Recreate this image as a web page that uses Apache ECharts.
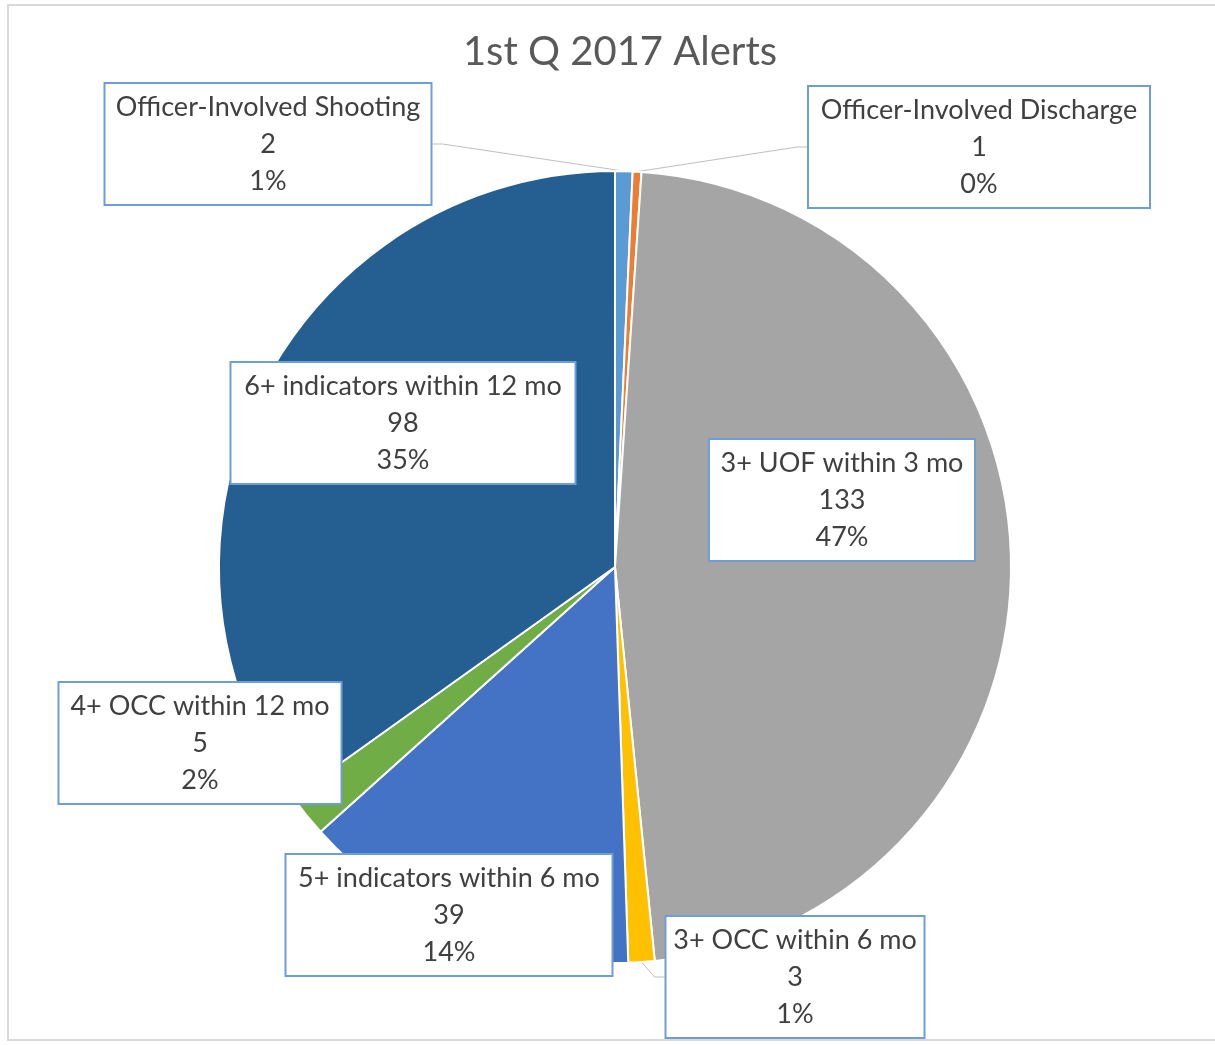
<!DOCTYPE html>
<html>
<head>
<meta charset="utf-8">
<title>1st Q 2017 Alerts</title>
<script src="https://cdn.jsdelivr.net/npm/echarts@6/dist/echarts.min.js"></script>
<style>
  html, body { margin: 0; padding: 0; background: #fff; }
  #chart { width: 1215px; height: 1045px; }
</style>
</head>
<body>
<div id="chart"></div>
<script>
// data, in Excel's order (clockwise from 12 o'clock)
var categories = [
  'Officer-Involved Shooting',
  'Officer-Involved Discharge',
  '3+ UOF within 3 mo',
  '3+ OCC within 6 mo',
  '5+ indicators within 6 mo',
  '4+ OCC within 12 mo',
  '6+ indicators within 12 mo'
];
var counts = [2, 1, 133, 3, 39, 5, 98];
var sliceColors = ['#5B9BD5', '#ED7D31', '#A5A5A5', '#FFC000', '#4472C4', '#70AD47', '#255E91'];

// label boxes: centre, text width, leader line
var labelSpots = [
  { x: 268, y: 144, w: 305, line: true },
  { x: 979, y: 147, w: 320, line: true },
  { x: 842, y: 500, w: 244, line: false },
  { x: 795, y: 977, w: 237, line: true },
  { x: 449, y: 915, w: 305, line: false },
  { x: 200, y: 743, w: 261, line: false },
  { x: 403, y: 423, w: 323, line: false }
];

var myChart = echarts.init(document.getElementById('chart'));

var pieData = categories.map(function (name, i) {
  return {
    name: name,
    value: counts[i],
    itemStyle: { color: sliceColors[i] },
    label: { width: labelSpots[i].w },
    labelLine: { show: labelSpots[i].line }
  };
});

var option = {
  backgroundColor: '#fff',
  animation: false,
  title: {
    text: '1st Q 2017 Alerts',
    left: 615,
    top: 27,
    textAlign: 'center',
    textStyle: {
      fontFamily: 'Lato',
      fontSize: 40,
      fontWeight: 'normal',
      color: '#595959'
    }
  },
  graphic: [{
    type: 'rect',
    silent: true,
    shape: { x: 8, y: 5, width: 1230, height: 1035 },
    style: { fill: 'none', stroke: '#D9D9D9', lineWidth: 2 }
  }],
  series: [{
    name: 'Alerts',
    type: 'pie',
    center: [615, 567],
    radius: 396,
    startAngle: 90,
    clockwise: true,
    percentPrecision: 0,
    itemStyle: { borderColor: '#fff', borderWidth: 2 },
    label: {
      show: true,
      position: 'outside',
      formatter: '{b}\n{c}\n{d}%',
      fontFamily: 'Lato',
      fontSize: 27,
      lineHeight: 37,
      color: '#404040',
      align: 'center',
      overflow: 'none',
      backgroundColor: '#fff',
      borderColor: '#6D9ED6',
      borderWidth: 2,
      padding: [7, 10, 2, 10]
    },
    labelLine: {
      show: true,
      length: 10,
      length2: 10,
      lineStyle: { color: '#BFBFBF', width: 1 }
    },
    labelLayout: function (params) {
      var spot = labelSpots[params.dataIndex];
      return {
        x: spot.x,
        y: spot.y,
        align: 'center',
        verticalAlign: 'middle',
        hideOverlap: false,
        moveOverlap: null
      };
    },
    data: pieData
  }]
};

myChart.setOption(option);
</script>
</body>
</html>
